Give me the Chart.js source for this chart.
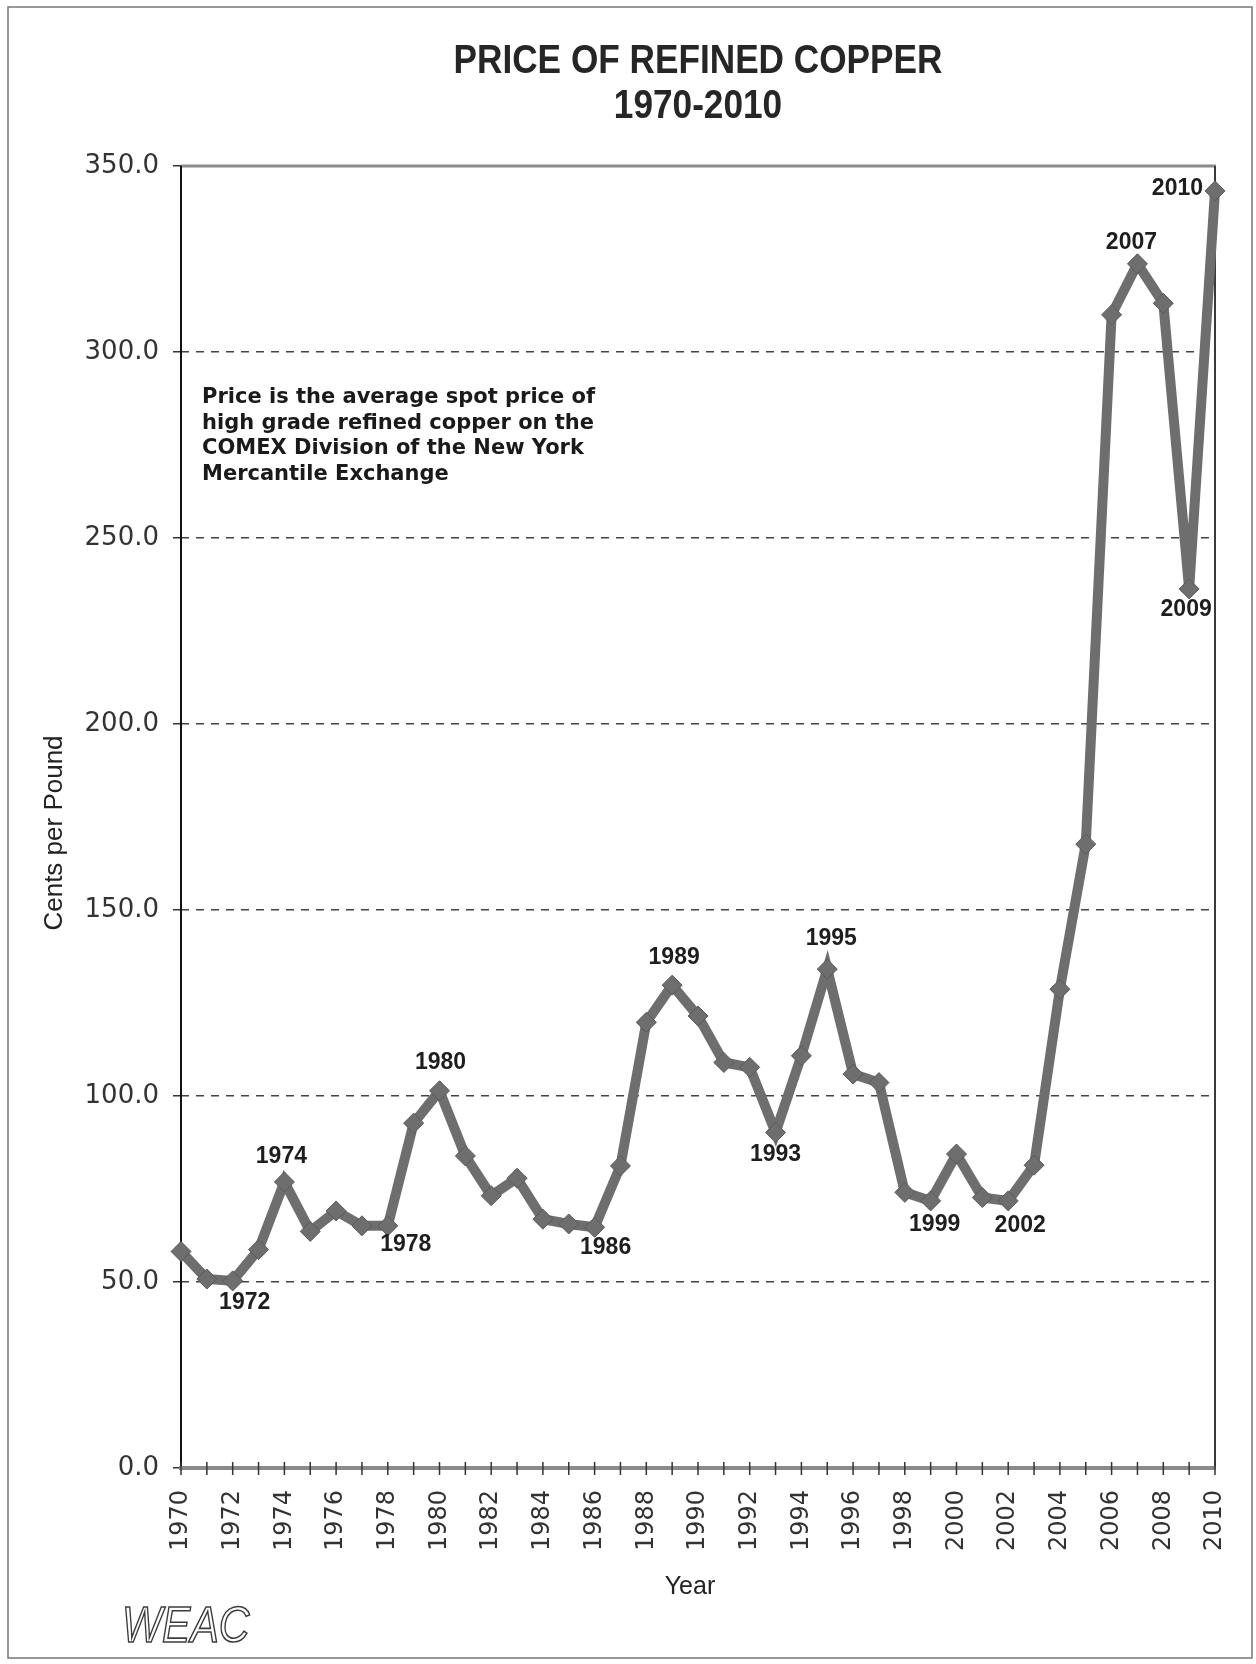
<!DOCTYPE html>
<html>
<head>
<meta charset="utf-8">
<title>Price of Refined Copper 1970-2010</title>
<script src="https://cdn.jsdelivr.net/npm/chart.js@4/dist/chart.umd.min.js"></script>
<style>
  html, body { margin: 0; padding: 0; background: #fff; }
  #wrap { position: relative; width: 1256px; height: 1664px; }
  canvas { display: block; }
</style>
</head>
<body>
<div id="wrap"><canvas id="copper" width="1256" height="1664"></canvas></div>
<script>
// Annual average COMEX spot price, cents per pound
const years = [
  '1970','1971','1972','1973','1974','1975','1976','1977','1978','1979',
  '1980','1981','1982','1983','1984','1985','1986','1987','1988','1989',
  '1990','1991','1992','1993','1994','1995','1996','1997','1998','1999',
  '2000','2001','2002','2003','2004','2005','2006','2007','2008','2009','2010'
];
const prices = [
  58.2, 50.8, 50.3, 58.7, 76.9, 63.6, 69.1, 65.1, 65.1, 92.7,
  101.4, 83.9, 73.2, 77.9, 66.9, 65.6, 64.7, 81.2, 119.8, 129.8,
  121.5, 109.0, 107.7, 90.2, 110.8, 134.1, 105.9, 103.6, 74.1, 71.8,
  84.4, 72.7, 71.8, 81.4, 128.7, 167.7, 310.0, 323.7, 313.1, 236.3, 343.3
];
const yTicks = [0, 50, 100, 150, 200, 250, 300, 350];

// Years called out next to their markers
const calloutYears = ['1972','1974','1978','1980','1986','1989','1993','1995','1999','2002','2007','2009','2010'];
// Where each callout sits relative to its marker: [dx, dy, align]
const calloutPlacement = {
  '1972': [12, 22, 'center'], '1974': [-3, -25, 'center'], '1978': [18, 19, 'center'],
  '1980': [1, -28, 'center'], '1986': [11, 20, 'center'], '1989': [2, -27, 'center'],
  '1993': [0, 22, 'center'], '1995': [4, -30, 'center'], '1999': [4, 24, 'center'],
  '2002': [12, 25, 'center'], '2007': [-6, -21, 'center'], '2009': [-3, 21, 'center'],
  '2010': [-12, -2, 'right']
};

const chartTitle = ['PRICE OF REFINED COPPER', '1970-2010'];
const noteLines = [
  'Price is the average spot price of',
  'high grade refined copper on the',
  'COMEX Division of the New York',
  'Mercantile Exchange'
];
const yAxisTitle = 'Cents per Pound';
const xAxisTitle = 'Year';
const logoText = 'WEAC';

const AREA = { left: 181, top: 166, right: 1215, bottom: 1468 };
const LINE_GREY = '#6e6e6e';

const decorations = {
  id: 'decorations',
  beforeDraw(chart) {
    const ctx = chart.ctx;
    ctx.save();
    ctx.fillStyle = '#fff';
    ctx.fillRect(0, 0, chart.width, chart.height);
    // page frame
    ctx.strokeStyle = '#777';
    ctx.lineWidth = 1.5;
    ctx.strokeRect(8, 7, 1244, 1651);
    ctx.restore();
  },
  beforeDatasetsDraw(chart) {
    const ctx = chart.ctx;
    const a = chart.chartArea;
    const xs = chart.scales.x;
    ctx.save();
    // plot frame
    ctx.lineCap = 'butt';
    ctx.strokeStyle = '#8c8c8c';
    ctx.lineWidth = 3;
    ctx.beginPath(); ctx.moveTo(a.left, a.top); ctx.lineTo(a.right + 1, a.top); ctx.stroke();
    ctx.strokeStyle = '#3a3a3a';
    ctx.lineWidth = 2;
    ctx.beginPath(); ctx.moveTo(a.right, a.top); ctx.lineTo(a.right, a.bottom); ctx.stroke();
    ctx.strokeStyle = '#111';
    ctx.lineWidth = 2;
    ctx.beginPath(); ctx.moveTo(a.left, a.top); ctx.lineTo(a.left, a.bottom + 2); ctx.stroke();
    ctx.strokeStyle = '#8a8a8a';
    ctx.lineWidth = 4;
    ctx.beginPath(); ctx.moveTo(a.left - 2, a.bottom); ctx.lineTo(a.right + 1, a.bottom); ctx.stroke();
    // yearly tick marks crossing the x axis
    ctx.strokeStyle = '#333';
    ctx.lineWidth = 1.5;
    for (let i = 0; i < years.length; i++) {
      const x = xs.getPixelForValue(i);
      ctx.beginPath(); ctx.moveTo(x, a.bottom - 6); ctx.lineTo(x, a.bottom + 7); ctx.stroke();
    }
    ctx.restore();
  },
  afterDatasetsDraw(chart) {
    const ctx = chart.ctx;
    const a = chart.chartArea;
    const meta = chart.getDatasetMeta(0);
    ctx.save();

    // title, drawn slightly condensed
    const cx = (a.left + a.right) / 2;
    ctx.fillStyle = '#262626';
    ctx.textAlign = 'center';
    ctx.textBaseline = 'middle';
    ctx.font = 'bold 40px "Liberation Sans", Arial, sans-serif';
    [62, 107].forEach((y, i) => {
      ctx.save();
      ctx.translate(cx, y);
      ctx.scale(0.88, 1);
      ctx.fillText(chartTitle[i], 0, 0);
      ctx.restore();
    });

    // explanatory note
    ctx.fillStyle = '#1a1a1a';
    ctx.textAlign = 'left';
    ctx.textBaseline = 'alphabetic';
    ctx.font = 'bold 21px "DejaVu Sans", sans-serif';
    noteLines.forEach((t, i) => ctx.fillText(t, 202, 403 + i * 25.7));

    // year callouts
    ctx.font = 'bold 23px "Liberation Sans", Arial, sans-serif';
    ctx.fillStyle = '#1e1e1e';
    ctx.textBaseline = 'middle';
    calloutYears.forEach(yr => {
      const idx = years.indexOf(yr);
      const pt = meta.data[idx];
      const [dx, dy, align] = calloutPlacement[yr];
      ctx.textAlign = align;
      ctx.fillText(yr, pt.x + dx, pt.y + dy);
    });

    // axis titles
    ctx.fillStyle = '#222';
    ctx.font = '26px "Liberation Sans", Arial, sans-serif';
    ctx.textAlign = 'center';
    ctx.save();
    ctx.translate(55, 833);
    ctx.rotate(-Math.PI / 2);
    ctx.fillText(yAxisTitle, 0, 0);
    ctx.restore();
    ctx.font = '25px "Liberation Sans", Arial, sans-serif';
    ctx.fillText(xAxisTitle, 690, 1587);

    // outlined logo
    ctx.save();
    ctx.translate(122, 1642);
    ctx.scale(0.85, 1);
    ctx.font = 'italic 50px "Liberation Sans", Arial, sans-serif';
    ctx.textAlign = 'left';
    ctx.textBaseline = 'alphabetic';
    ctx.strokeStyle = '#3c3c3c';
    ctx.lineWidth = 1.6;
    ctx.strokeText(logoText, 0, 0);
    ctx.restore();

    ctx.restore();
  }
};

new Chart(document.getElementById('copper'), {
  type: 'line',
  data: {
    labels: years,
    datasets: [{
      data: prices,
      borderColor: LINE_GREY,
      borderWidth: 10,
      tension: 0,
      borderJoinStyle: 'miter',
      pointStyle: 'rectRot',
      pointRadius: 10,
      pointBackgroundColor: LINE_GREY,
      pointBorderColor: '#5a5a5a',
      pointBorderWidth: 1,
      clip: false
    }]
  },
  options: {
    responsive: false,
    animation: false,
    devicePixelRatio: 1,
    layout: { padding: { left: 0, top: AREA.top, right: 1256 - AREA.right, bottom: 0 } },
    plugins: {
      legend: { display: false },
      title: { display: false },
      tooltip: { enabled: false }
    },
    scales: {
      x: {
        type: 'category',
        offset: false,
        grid: { display: true, drawOnChartArea: false, drawTicks: false, color: 'rgba(0,0,0,0)' },
        border: { display: false },
        ticks: {
          autoSkip: false,
          minRotation: 90,
          maxRotation: 90,
          padding: 22,
          color: '#333',
          font: { family: '"DejaVu Sans", sans-serif', size: 24 },
          callback: (v, i) => (i % 2 === 0 ? years[i] : '')
        },
        afterFit: s => {
          s.height = 1664 - AREA.bottom;
          s.paddingLeft = 0; s.paddingRight = 0;
          s.paddingTop = 0; s.paddingBottom = 0;
        }
      },
      y: {
        min: 0,
        max: 350,
        afterBuildTicks: s => { s.ticks = yTicks.map(v => ({ value: v })); },
        grid: {
          color: '#444',
          lineWidth: 1.5,
          drawTicks: true,
          tickLength: 8,
          tickColor: '#333',
          tickWidth: 1.5,
          tickBorderDash: []
        },
        border: { display: false, dash: [8, 7] },
        ticks: {
          padding: 14,
          color: '#333',
          font: { family: '"DejaVu Sans", sans-serif', size: 26 },
          callback: v => Number(v).toFixed(1)
        },
        afterFit: s => {
          s.width = AREA.left;
          s.paddingLeft = 0; s.paddingRight = 0;
          s.paddingTop = 0; s.paddingBottom = 0;
        }
      }
    }
  },
  plugins: [decorations]
});
</script>
</body>
</html>
